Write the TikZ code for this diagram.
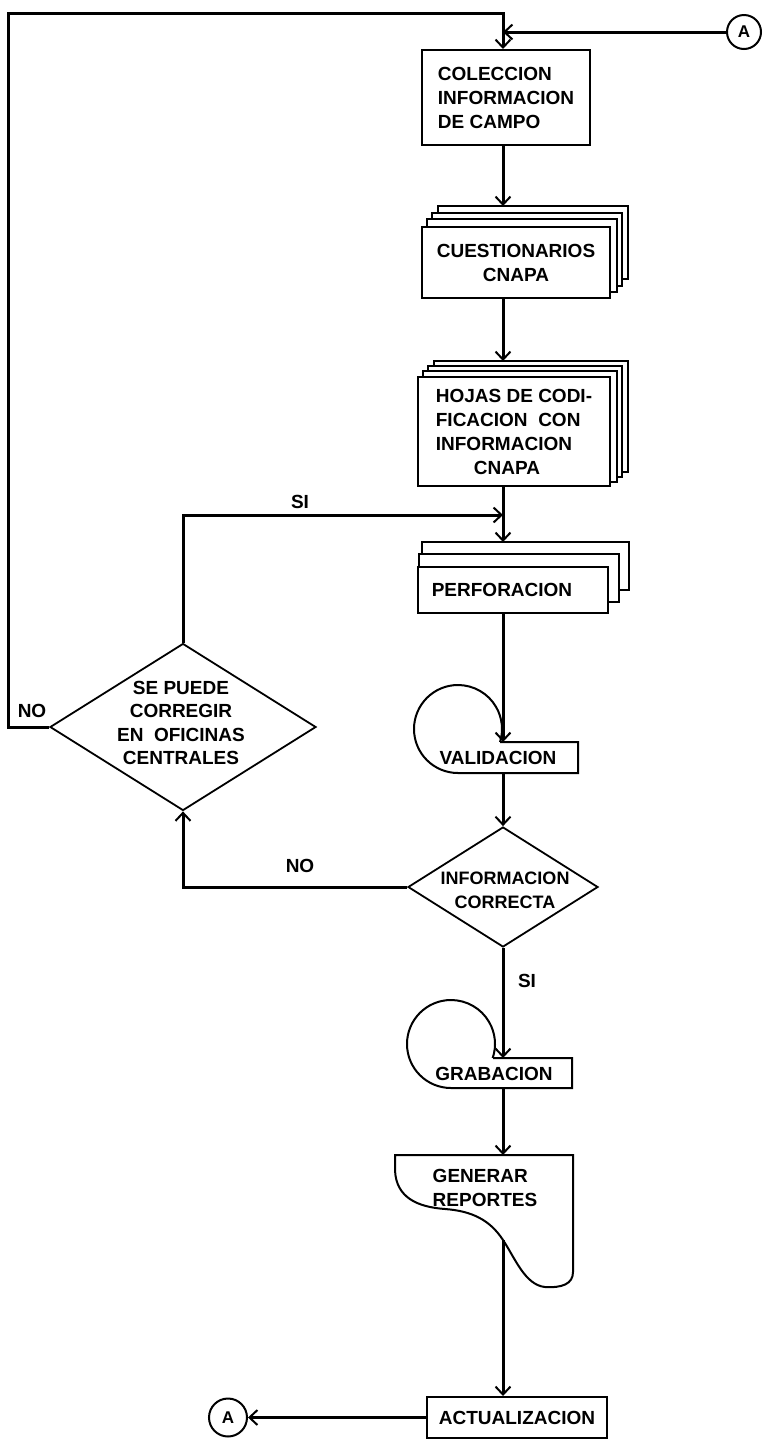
\documentclass[tikz,border=0pt]{standalone}
\usepackage{fontspec}
\setmainfont{Liberation Sans}
\usetikzlibrary{arrows.meta,shapes.geometric,backgrounds}
\begin{document}
\begin{tikzpicture}[x=1pt,y=-1pt,
  font=\fontsize{19}{24}\selectfont\bfseries,
  box/.style={draw, line width=2pt, fill=white, inner sep=0pt},
  shp/.style={draw, line width=2pt, fill=white},
  txt/.style={inner sep=0pt, align=left},
  lbl/.style={inner sep=0pt},
  conn/.style={line width=3pt},
  arr/.style={conn, -{Straight Barb[length=8pt,width=15pt,line width=2pt]}},
  dec/.style={diamond, draw, line width=1.8pt, inner sep=0pt},
  conA/.style={circle, draw, line width=2pt, inner sep=0pt, font=\fontsize{17}{18}\selectfont\bfseries},
]
\begin{pgfonlayer}{background}
\fill[white] (0,0) rectangle (770,1444);
\end{pgfonlayer}
\useasboundingbox (0,0) rectangle (770,1444);

\coordinate (ax) at (503,0);
\coordinate (topL) at (8,13);
\coordinate (topR) at (503,13);
\coordinate (j2) at (503,515);

% connector A (top)
\node[conA, minimum size=34] (A1) at (744,32) {A};

% process boxes
\node[box, minimum width=168, minimum height=95, align=left] (colec) at (506,97.5) {COLECCION\\INFORMACION\\DE CAMPO};
\node[box, minimum width=188, minimum height=71, align=center] (cuest) at (516,262.5) {CUESTIONARIOS\\CNAPA};
\node[box, minimum width=192, minimum height=109, align=left] (hojas) at (514,431.5) {HOJAS DE CODI-\\FICACION\ \ CON\\INFORMACION\\\hspace*{38pt}CNAPA};
\node[box, minimum width=190, minimum height=46] (perf) at (513,590) {PERFORACION\hspace*{22pt}};

% stacked sheets behind
\begin{pgfonlayer}{background}
\foreach \k in {3,2,1}{
  \draw[shp] ([xshift=5.7pt*\k, yshift=6.7pt*\k]cuest.south west) rectangle ([xshift=5.7pt*\k, yshift=6.7pt*\k]cuest.north east);
}
\foreach \k in {3,2,1}{
  \draw[shp] ([xshift=5.5pt*\k, yshift=5pt*\k]hojas.south west) rectangle ([xshift=5.5pt*\k, yshift=5pt*\k]hojas.north east);
}
\draw[shp] ([xshift=5pt, yshift=24pt]perf.south west) rectangle ([xshift=20pt, yshift=24pt]perf.north east);
\draw[shp] ([xshift=2pt, yshift=12pt]perf.south west) rectangle ([xshift=10pt, yshift=12pt]perf.north east);
\end{pgfonlayer}

\coordinate (ctop) at ([yshift=20pt]cuest.north);
\coordinate (htop) at ([yshift=15pt]hojas.north);
\coordinate (ptop) at ([yshift=24pt]perf.north);

% validation (loop symbol)
\draw[shp, fill=none] (500,742) -- (578,742) -- (578,773) -- (458,773) arc[start angle=90, end angle=377.2, radius=44];
\node[lbl] (valid) at (498,758) {VALIDACION};
\coordinate (vtop) at (503,742);
\coordinate (vbot) at (503,773);

% decisions
\node[dec, minimum width=190, minimum height=120] (d1) at (503,887) {};
\node[txt, align=center, font=\fontsize{18}{24}\selectfont\bfseries] (d1t) at (505,890) {INFORMACION\\CORRECTA};
\node[dec, minimum width=266, minimum height=167] (d2) at (183,727) {};
\node[txt, align=center, font=\fontsize{19}{23.5}\selectfont\bfseries] (d2t) at (181,723) {SE PUEDE\\CORREGIR\\EN\ \ OFICINAS\\CENTRALES};

% labels
\node[lbl] (si1) at (300,502) {SI};
\node[lbl] (no1) at (300,866) {NO};
\node[lbl] (no2) at (32,711) {NO};
\node[lbl] (si2) at (527,981) {SI};

% grabacion (loop symbol)
\draw[shp, fill=none] (493,1058) -- (572,1058) -- (572,1088) -- (451,1088) arc[start angle=90, end angle=378.6, radius=44];
\node[lbl] (grab) at (494,1074) {GRABACION};
\coordinate (gtop) at (503,1058);
\coordinate (gbot) at (503,1088);

% report document
\draw[shp] (395,1155) -- (573,1155) -- (573,1272)
  .. controls (573,1284) and (562,1288) .. (545,1287)
  .. controls (525,1285) and (515,1258) .. (503,1240)
  .. controls (490,1220) and (472,1211) .. (445,1209)
  .. controls (418,1207) and (396,1198) .. (395,1170) -- cycle;
\node[txt] (rep) at (485,1188) {GENERAR\\REPORTES};
\coordinate (rtop) at (503,1155);
\coordinate (rout) at (503,1240);

% actualizacion and connector A (bottom)
\node[box, minimum width=180, minimum height=41] (act) at (517,1417.5) {ACTUALIZACION};
\node[conA, minimum size=38] (A2) at (228,1417.5) {A};

% connectors
\draw[arr] (d2.west) -| (topL) -- (topR) -- (topR |- colec.north);
\draw[arr] (A1.west) -- (A1.west -| topR);
\draw[arr] (colec.south -| ax) -- (ctop -| ax);
\draw[arr] (cuest.south -| ax) -- (htop -| ax);
\draw[arr] (hojas.south -| ax) -- (ptop -| ax);
\draw[arr] (d2.north) |- (j2);
\draw[arr] (perf.south -| ax) -- (vtop);
\draw[arr] (vbot) -- (d1.north);
\draw[arr] (d1.south) -- (gtop);
\draw[arr] (d1.west) -| (d2.south);
\draw[arr] (gbot) -- (rtop);
\draw[arr] (rout) -- (rout |- act.north);
\draw[arr] (act.west) -- (A2.east);
\end{tikzpicture}
\end{document}
